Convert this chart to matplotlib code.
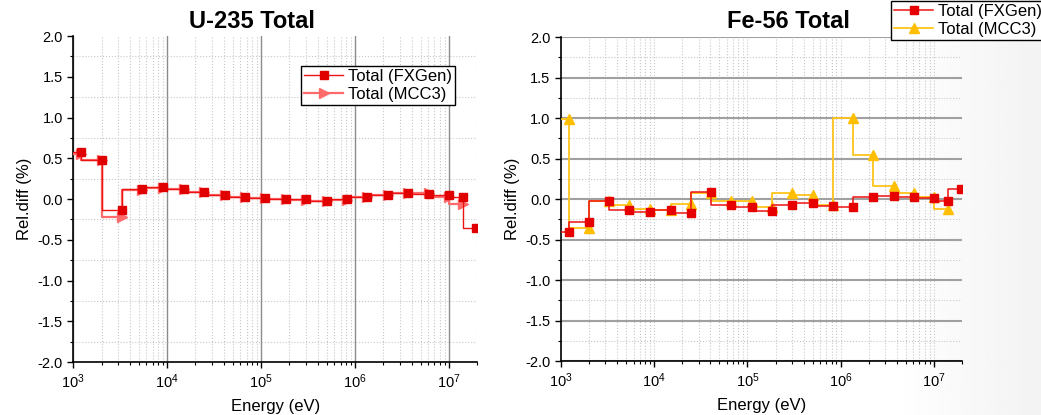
import numpy as np
import matplotlib.pyplot as plt
from matplotlib.ticker import LogLocator, MultipleLocator, FormatStrFormatter

plt.rcParams['font.family'] = ['Liberation Sans', 'DejaVu Sans']
plt.rcParams['mathtext.fontset'] = 'custom'
plt.rcParams['mathtext.rm'] = 'Liberation Sans'
plt.rcParams['mathtext.it'] = 'Liberation Sans'

# group energies (eV), value holds over (E[i-1], E[i]]
group_lower = 800.0
energy = [1.22e3, 2.0e3, 3.3e3, 5.4e3, 9.0e3, 1.5e4, 2.45e4, 4.1e4, 6.7e4,
          1.11e5, 1.82e5, 3.0e5, 5.0e5, 8.2e5, 1.35e6, 2.24e6, 3.7e6, 6.1e6,
          1.0e7, 1.42e7, 1.96e7]

# U-235 total, relative difference (%)
u235_fxgen = [0.58, 0.48, -0.136, 0.12, 0.148, 0.127, 0.086, 0.05, 0.03, 0.012,
              0.004, -0.004, -0.025, -0.004, 0.025, 0.055, 0.078, 0.066, 0.05,
              0.025, -0.36]
u235_mcc3 = [0.55, 0.48, -0.22, 0.11, 0.14, 0.125, 0.085, 0.045, 0.025, 0.008,
             0.0, -0.008, -0.025, -0.008, 0.02, 0.05, 0.075, 0.07, 0.03, -0.065]

# Fe-56 total, relative difference (%)
fe56_fxgen = [-0.41, -0.28, -0.02, -0.14, -0.16, -0.13, -0.17, 0.09, -0.08, -0.10,
              -0.15, -0.07, -0.05, -0.09, -0.10, 0.03, 0.04, 0.03, 0.01, -0.02, 0.12]
fe56_mcc3 = [0.99, -0.36, -0.02, -0.07, -0.12, -0.13, -0.06, 0.07, -0.03, -0.03,
             -0.10, 0.07, 0.045, -0.08, 1.0, 0.54, 0.165, 0.075, 0.03, -0.12]

labels = ['Total (FXGen)', 'Total (MCC3)']
titles = ['U-235 Total', 'Fe-56 Total']


def step_series(ax, vals, **kw):
    # prepend the lower group edge so the first group is drawn as a step too
    x = [group_lower] + energy[:len(vals)]
    y = [vals[0]] + list(vals)
    ax.plot(x, y, drawstyle='steps-pre', markevery=slice(1, None), **kw)


def style_axes(ax):
    ax.set_facecolor('none')
    ax.set_xscale('log')
    ax.set_xlim(1e3, 2e7)
    ax.set_ylim(-2.0, 2.0)
    ax.xaxis.set_major_locator(LogLocator(base=10, numticks=10))
    ax.xaxis.set_minor_locator(LogLocator(base=10, subs=np.arange(2, 10), numticks=20))
    ax.yaxis.set_major_locator(MultipleLocator(0.5))
    ax.yaxis.set_minor_locator(MultipleLocator(0.25))
    ax.yaxis.set_major_formatter(FormatStrFormatter('%.1f'))
    for s in ['top', 'right']:
        ax.spines[s].set_visible(False)
    for s in ['left', 'bottom']:
        ax.spines[s].set_linewidth(1.2)
    ax.tick_params(which='major', direction='out', length=4, width=1, labelsize=10.5)
    ax.tick_params(which='minor', direction='out', length=2.5, width=0.8)
    ax.set_xlabel('Energy (eV)', fontsize=12, labelpad=6)
    ax.set_ylabel('Rel.diff (%)', fontsize=12, labelpad=4)
    ax.set_axisbelow(True)


fig = plt.figure(figsize=(10.41, 4.15), dpi=100)

# faint grey slide background towards the right edge
bg = fig.add_axes([0, 0, 1, 1], zorder=-5)
gx = np.linspace(0, 1, 400)
shade = np.clip((gx - 0.86) / 0.14, 0, 1) * 0.05
bg.imshow(1 - shade[None, :], cmap='gray', vmin=0, vmax=1, aspect='auto',
          extent=[0, 1, 0, 1])
bg.axis('off')

ax1 = fig.add_axes([0.0704, 0.1277, 0.3881, 0.7855])
ax2 = fig.add_axes([0.5389, 0.1301, 0.3852, 0.7807])

# U-235
style_axes(ax1)
ax1.grid(True, which='major', axis='x', color='#8c8c8c', lw=1.0, ls='-')
ax1.grid(True, which='minor', axis='x', color='#c8c8c8', lw=0.8, ls=':')
ax1.grid(True, which='minor', axis='y', color='#c8c8c8', lw=0.8, ls=':')
step_series(ax1, u235_mcc3, color='#ff6b6b', lw=1.6, marker='>', ms=7,
            mfc='#ff6b6b', mec='#ff6b6b', label=labels[1], zorder=3)
step_series(ax1, u235_fxgen, color='#ee1111', lw=1.0, marker='s', ms=5.5,
            mfc='#e00000', mec='#e00000', label=labels[0], zorder=4)
h, l = ax1.get_legend_handles_labels()
leg1 = ax1.legend(h[::-1], l[::-1], loc='upper right',
                  bbox_to_anchor=(455 / 1041, 1 - 66 / 415),
                  bbox_transform=fig.transFigure, borderaxespad=0,
                  fontsize=12, fancybox=False, framealpha=1, edgecolor='black',
                  borderpad=0.2, labelspacing=0.15, handlelength=2.3,
                  handletextpad=0.3)
leg1.get_frame().set_linewidth(1.0)

# Fe-56
style_axes(ax2)
ax2.grid(True, which='major', axis='y', color='#a0a0a0', lw=1.5, ls='-')
ax2.grid(True, which='minor', axis='y', color='#c8c8c8', lw=0.8, ls=':')
ax2.grid(True, which='both', axis='x', color='#c8c8c8', lw=0.8, ls=':')
step_series(ax2, fe56_fxgen, color='#ee1111', lw=1.1, marker='s', ms=5.5,
            mfc='#e60000', mec='#e60000', label=labels[0], zorder=4)
step_series(ax2, fe56_mcc3, color='#ffc41a', lw=1.3, marker='^', ms=7.5,
            mfc='#ffbf00', mec='#ffbf00', label=labels[1], zorder=3)
leg2 = ax2.legend(loc='upper left', bbox_to_anchor=(891 / 1041, 1 - 1 / 415),
                  bbox_transform=fig.transFigure, borderaxespad=0,
                  fontsize=12, fancybox=False, framealpha=1, edgecolor='black',
                  borderpad=0.2, labelspacing=0.15, handlelength=2.3,
                  handletextpad=0.3)
leg2.get_frame().set_linewidth(1.0)

title_kw = dict(fontsize=17, fontweight='bold', ha='center', va='center',
                fontstretch='condensed')
fig.text(252 / 1041, 1 - 22 / 415, titles[0], **title_kw)
fig.text(788 / 1041, 1 - 22 / 415, titles[1], **title_kw)

fig.savefig('out.png', dpi=100)
